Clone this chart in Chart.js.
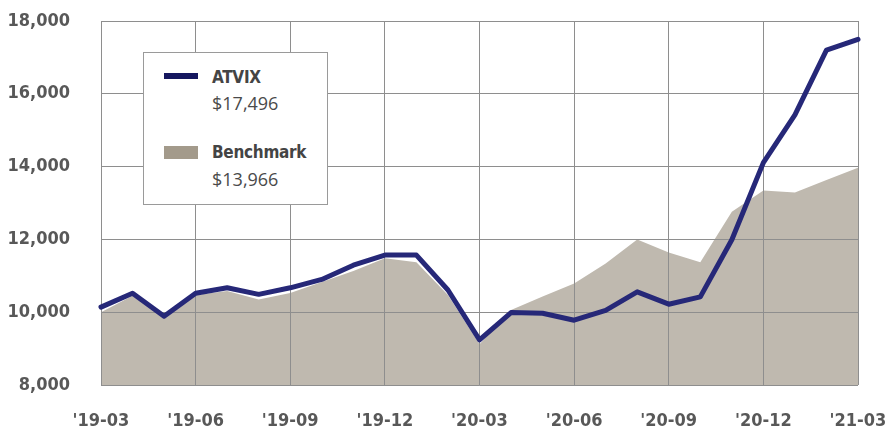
<!DOCTYPE html>
<html>
<head>
<meta charset="utf-8">
<script src="https://cdn.jsdelivr.net/npm/chart.js@4.4.1/dist/chart.umd.min.js"></script>
<style>
  html, body { margin: 0; padding: 0; background: #fff; }
  #wrap { position: relative; width: 886px; height: 432px; }
  #legend {
    position: absolute; left: 143px; top: 52px; width: 185px; height: 153px;
    background: #fff; border: 1px solid #9a9a9a; box-sizing: border-box;
    font-family: "Open Sans", sans-serif; color: #4a4a4a;
  }
  .sw { position: absolute; left: 20px; width: 34px; }
  .nm { position: absolute; left: 68px; font-family: "DejaVu Sans Condensed", sans-serif; font-weight: bold; font-size: 17px; line-height: 20px; color: #444; letter-spacing: -0.3px; }
  .vl { position: absolute; left: 68px; font-size: 18px; line-height: 22px; color: #4a4a4a; }
</style>
</head>
<body>
<div id="wrap">
  <canvas id="c" width="886" height="432"></canvas>
  <div id="legend">
    <div class="sw" style="top:20px;height:6px;background:#15175f;"></div>
    <div class="nm" style="top:14px;">ATVIX</div>
    <div class="vl" style="top:39px;">$17,496</div>
    <div class="sw" style="top:93px;height:13px;background:#a39a8b;"></div>
    <div class="nm" style="top:89px;">Benchmark</div>
    <div class="vl" style="top:115px;">$13,966</div>
  </div>
</div>
<script>
const months = ["'19-03","'19-04","'19-05","'19-06","'19-07","'19-08","'19-09","'19-10","'19-11","'19-12",
  "'20-01","'20-02","'20-03","'20-04","'20-05","'20-06","'20-07","'20-08","'20-09","'20-10","'20-11","'20-12",
  "'21-01","'21-02","'21-03"];
const atvix = [10140, 10520, 9890, 10520, 10670, 10490, 10670, 10900, 11290, 11570,
  11570, 10610, 9240, 9990, 9970, 9780, 10050, 10560, 10220, 10420, 11990, 14110,
  15420, 17200, 17496];
const benchmark = [10000, 10450, 9850, 10470, 10580, 10350, 10530, 10830, 11130, 11480,
  11370, 10470, 9120, 10060, 10430, 10790, 11340, 12000, 11640, 11370, 12760, 13340,
  13290, 13630, 13966];
const yTicks = [8000, 10000, 12000, 14000, 16000, 18000];

const tickFont = { family: "'DejaVu Sans Condensed', sans-serif", weight: 'bold', size: 18 };
const gridColor = '#8e8e8e';

const gridOver = {
  id: 'gridOver',
  afterDatasetDraw(chart, args) {
    if (args.index === 1) {
      chart.scales.x.drawGrid(chart.chartArea);
      chart.scales.y.drawGrid(chart.chartArea);
    }
  }
};

new Chart(document.getElementById('c'), {
  type: 'line',
  data: {
    labels: months,
    datasets: [
      {
        label: 'ATVIX', data: atvix, order: 0,
        borderColor: '#262878', borderWidth: 5, pointRadius: 0, tension: 0,
        fill: false, borderJoinStyle: 'round', borderCapStyle: 'round', clip: false
      },
      {
        label: 'Benchmark', data: benchmark, order: 1,
        borderWidth: 0, borderColor: 'rgba(0,0,0,0)', backgroundColor: '#bfb9af',
        pointRadius: 0, tension: 0, fill: 'start'
      }
    ]
  },
  options: {
    responsive: false, animation: false,
    layout: { padding: { top: 21, right: 28, left: 0, bottom: 0 } },
    plugins: { legend: { display: false }, tooltip: { enabled: false } },
    scales: {
      x: {
        type: 'category', offset: false,
        border: { display: false },
        grid: { color: (ctx) => (ctx.index % 3 === 0 ? gridColor : 'rgba(0,0,0,0)'), lineWidth: 1, drawTicks: false },
        ticks: {
          autoSkip: false, maxRotation: 0, padding: 26, color: '#585858', font: tickFont,
          callback: (v, i) => (i % 3 === 0 ? months[i] : '')
        },
        afterFit: (s) => { s.height = 47; s.paddingLeft = 0; s.paddingRight = 0; }
      },
      y: {
        min: 8000, max: 18000,
        border: { display: false },
        grid: { color: gridColor, lineWidth: 1, drawTicks: false },
        afterBuildTicks: (s) => { s.ticks = yTicks.map(v => ({ value: v })); },
        ticks: {
          padding: 31, color: '#585858', font: tickFont,
          callback: (v) => v.toLocaleString('en-US')
        },
        afterFit: (s) => { s.width = 101; s.paddingTop = 0; s.paddingBottom = 0; }
      }
    }
  },
  plugins: [gridOver]
});
</script>
</body>
</html>
